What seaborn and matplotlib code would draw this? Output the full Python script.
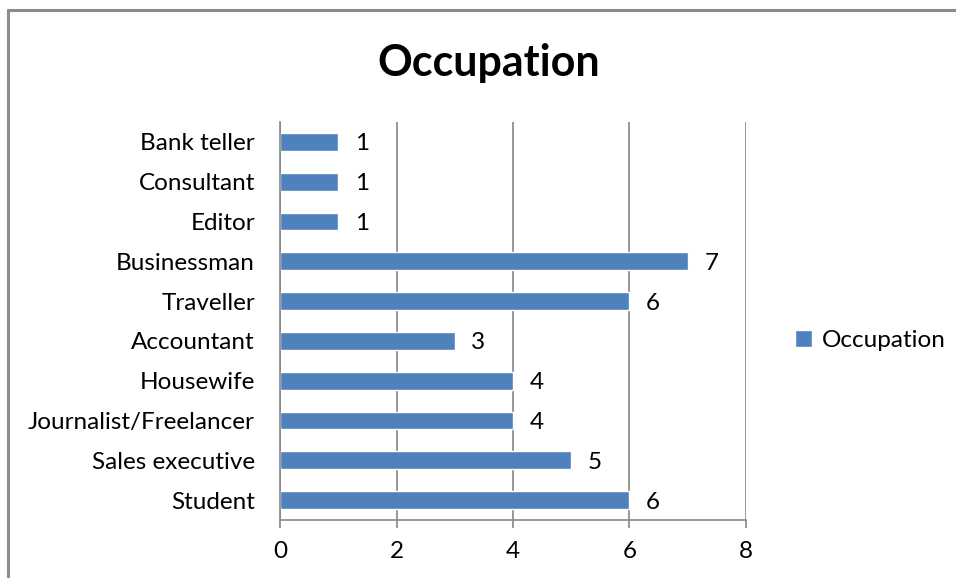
import pandas as pd
import matplotlib.pyplot as plt
import seaborn as sns
from matplotlib.lines import Line2D

# --- Data (top to bottom as shown) ---
occupations = ['Bank teller', 'Consultant', 'Editor', 'Businessman', 'Traveller',
               'Accountant', 'Housewife', 'Journalist/Freelancer', 'Sales executive', 'Student']
counts = [1, 1, 1, 7, 6, 3, 4, 4, 5, 6]
x_ticks = [0, 2, 4, 6, 8]

BAR_COLOR = '#4F81BD'
GRID_COLOR = '#868686'
FS = 17.5

sns.set_style('white')
plt.rcParams['font.family'] = ['Lato', 'DejaVu Sans']
plt.rcParams['text.color'] = 'black'
plt.rcParams['xtick.labelcolor'] = 'black'
plt.rcParams['ytick.labelcolor'] = 'black'

df = pd.DataFrame({'occupation': occupations, 'count': counts})

fig = plt.figure(figsize=(9.56, 5.78), dpi=100)
ax = fig.add_axes([0.2929, 0.1003, 0.7803 - 0.2929, 0.789 - 0.1003])

sns.barplot(data=df, y='occupation', x='count', orient='h', color=BAR_COLOR,
            saturation=1, width=0.45, label='Occupation', ax=ax)

ax.set_xlim(0, 8)
ax.set_ylim(len(occupations) - 0.5, -0.5)
ax.set_xticks(x_ticks)
ax.set_xticklabels([str(t) for t in x_ticks])
ax.set_xlabel('')
ax.set_ylabel('')

# category ticks sit between bars
ax.set_yticks(range(len(occupations)))
ax.set_yticklabels(occupations)
ax.set_yticks([i - 0.5 for i in range(len(occupations) + 1)], minor=True)
ax.tick_params(axis='y', which='major', length=0, pad=18, labelsize=FS)
ax.tick_params(axis='y', which='minor', length=6, width=1.2, color=GRID_COLOR, direction='out')
ax.tick_params(axis='x', which='major', length=6, width=1.2, color=GRID_COLOR,
               direction='out', labelsize=FS, pad=9, bottom=True)

ax.grid(axis='x', color=GRID_COLOR, linewidth=1.2)
ax.set_axisbelow(True)
for side in ['top', 'right']:
    ax.spines[side].set_visible(False)
for side in ['left', 'bottom']:
    ax.spines[side].set_color(GRID_COLOR)
    ax.spines[side].set_linewidth(1.2)

# value labels
for container in ax.containers:
    labels = ax.bar_label(container, padding=12, fontsize=FS, color='black')
    for t in labels:
        t.set_va('center_baseline')

ax.legend(loc='center left', bbox_to_anchor=(1.058, 0.452), frameon=False, fontsize=FS,
          handlelength=0.7, handleheight=0.7, handletextpad=0.4)

fig.suptitle('Occupation', fontsize=31, fontweight='bold', x=0.511, y=0.925, color='black')

# chart border (cropped at right and bottom)
fig.add_artist(Line2D([0.0085, 0.0085], [0, 0.983], color='#8C8C8C', linewidth=2.2,
                      transform=fig.transFigure))
fig.add_artist(Line2D([0.0085, 1.0], [0.983, 0.983], color='#8C8C8C', linewidth=2.2,
                      transform=fig.transFigure))

plt.savefig('out.png', dpi=100)
plt.close()
